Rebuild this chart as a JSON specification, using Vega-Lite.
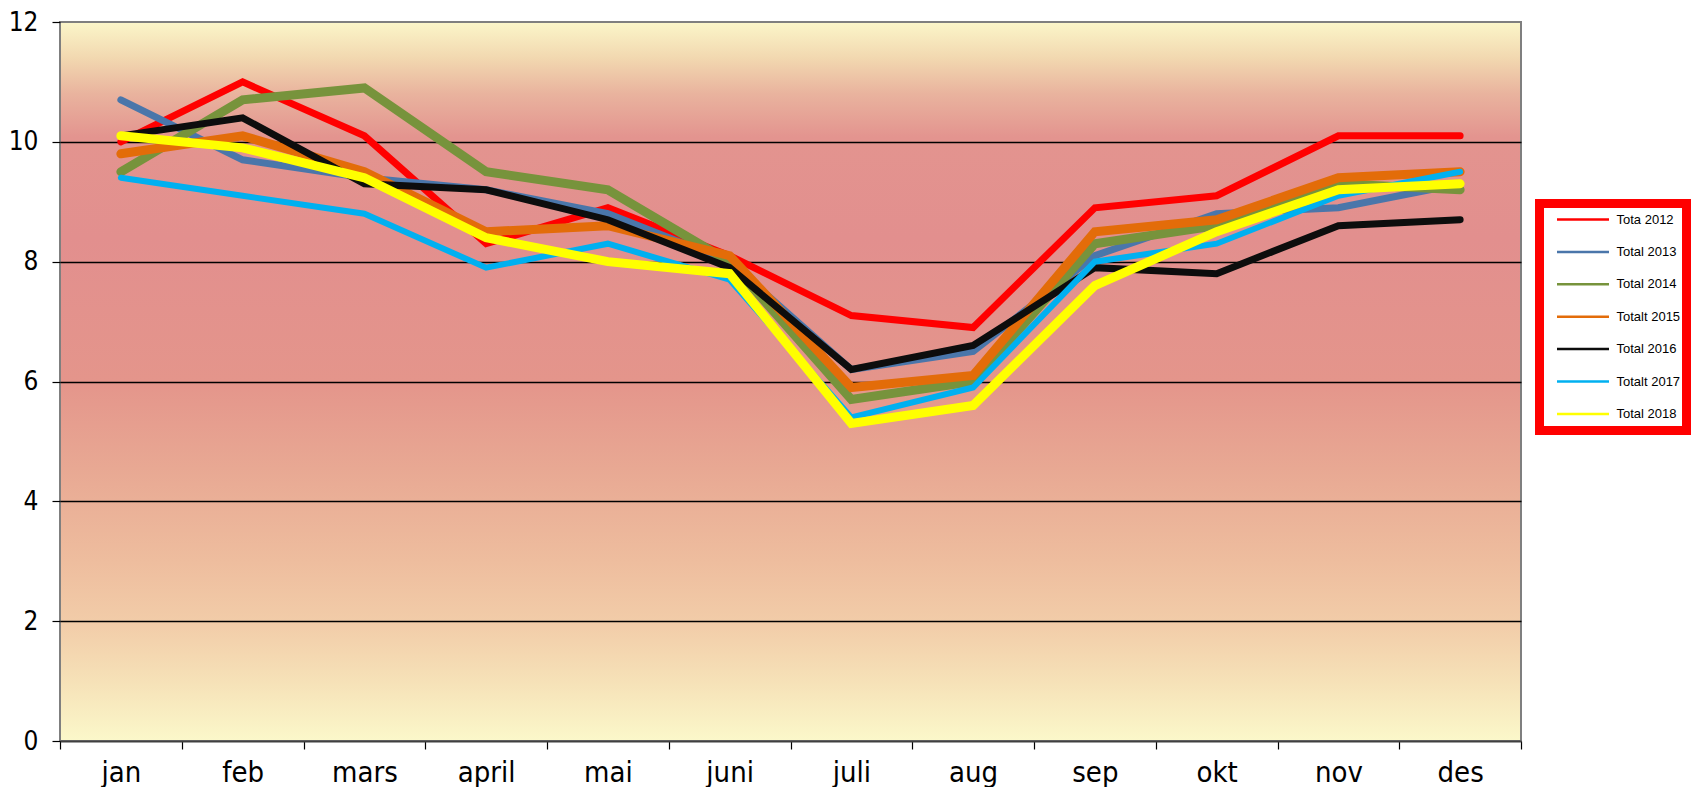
{
  "$schema": "https://vega.github.io/schema/vega-lite/v6.json",
  "width": 1461,
  "height": 719,
  "autosize": {"type": "none"},
  "padding": {"left": 60, "top": 22, "right": 173, "bottom": 46},
  "background": "#ffffff",
  "config": {
    "view": {
      "stroke": "#7f7f7f",
      "strokeWidth": 2,
      "fill": {
        "gradient": "linear",
        "x1": 0, "y1": 0, "x2": 0, "y2": 1,
        "stops": [
          {"offset": 0, "color": "#fbf6c9"},
          {"offset": 0.05, "color": "#f2d8b0"},
          {"offset": 0.1, "color": "#e9b39e"},
          {"offset": 0.16, "color": "#e3948f"},
          {"offset": 0.3, "color": "#e28f8e"},
          {"offset": 0.5, "color": "#e4958b"},
          {"offset": 0.62, "color": "#e8a893"},
          {"offset": 0.75, "color": "#eebd9e"},
          {"offset": 0.84, "color": "#f2cda9"},
          {"offset": 0.92, "color": "#f6e2b8"},
          {"offset": 1, "color": "#fbf8ca"}
        ]
      }
    },
    "legend": {
      "strokeWidth": 9
    }
  },
  "data": {
    "values": [
      {"m": "jan", "s": "Tota 2012", "v": 10.0},
      {"m": "feb", "s": "Tota 2012", "v": 11.0},
      {"m": "mars", "s": "Tota 2012", "v": 10.1},
      {"m": "april", "s": "Tota 2012", "v": 8.3},
      {"m": "mai", "s": "Tota 2012", "v": 8.9},
      {"m": "juni", "s": "Tota 2012", "v": 8.1},
      {"m": "juli", "s": "Tota 2012", "v": 7.1},
      {"m": "aug", "s": "Tota 2012", "v": 6.9},
      {"m": "sep", "s": "Tota 2012", "v": 8.9},
      {"m": "okt", "s": "Tota 2012", "v": 9.1},
      {"m": "nov", "s": "Tota 2012", "v": 10.1},
      {"m": "des", "s": "Tota 2012", "v": 10.1},
      {"m": "jan", "s": "Total 2013", "v": 10.7},
      {"m": "feb", "s": "Total 2013", "v": 9.7},
      {"m": "mars", "s": "Total 2013", "v": 9.4},
      {"m": "april", "s": "Total 2013", "v": 9.2},
      {"m": "mai", "s": "Total 2013", "v": 8.8},
      {"m": "juni", "s": "Total 2013", "v": 8.0},
      {"m": "juli", "s": "Total 2013", "v": 6.2},
      {"m": "aug", "s": "Total 2013", "v": 6.5},
      {"m": "sep", "s": "Total 2013", "v": 8.1},
      {"m": "okt", "s": "Total 2013", "v": 8.8},
      {"m": "nov", "s": "Total 2013", "v": 8.9},
      {"m": "des", "s": "Total 2013", "v": 9.3},
      {"m": "jan", "s": "Total 2014", "v": 9.5},
      {"m": "feb", "s": "Total 2014", "v": 10.7},
      {"m": "mars", "s": "Total 2014", "v": 10.9},
      {"m": "april", "s": "Total 2014", "v": 9.5},
      {"m": "mai", "s": "Total 2014", "v": 9.2},
      {"m": "juni", "s": "Total 2014", "v": 8.0},
      {"m": "juli", "s": "Total 2014", "v": 5.7},
      {"m": "aug", "s": "Total 2014", "v": 6.0},
      {"m": "sep", "s": "Total 2014", "v": 8.3},
      {"m": "okt", "s": "Total 2014", "v": 8.6},
      {"m": "nov", "s": "Total 2014", "v": 9.3},
      {"m": "des", "s": "Total 2014", "v": 9.2},
      {"m": "jan", "s": "Totalt 2015", "v": 9.8},
      {"m": "feb", "s": "Totalt 2015", "v": 10.1},
      {"m": "mars", "s": "Totalt 2015", "v": 9.5},
      {"m": "april", "s": "Totalt 2015", "v": 8.5},
      {"m": "mai", "s": "Totalt 2015", "v": 8.6},
      {"m": "juni", "s": "Totalt 2015", "v": 8.1},
      {"m": "juli", "s": "Totalt 2015", "v": 5.9},
      {"m": "aug", "s": "Totalt 2015", "v": 6.1},
      {"m": "sep", "s": "Totalt 2015", "v": 8.5},
      {"m": "okt", "s": "Totalt 2015", "v": 8.7},
      {"m": "nov", "s": "Totalt 2015", "v": 9.4},
      {"m": "des", "s": "Totalt 2015", "v": 9.5},
      {"m": "jan", "s": "Total 2016", "v": 10.1},
      {"m": "feb", "s": "Total 2016", "v": 10.4},
      {"m": "mars", "s": "Total 2016", "v": 9.3},
      {"m": "april", "s": "Total 2016", "v": 9.2},
      {"m": "mai", "s": "Total 2016", "v": 8.7},
      {"m": "juni", "s": "Total 2016", "v": 7.9},
      {"m": "juli", "s": "Total 2016", "v": 6.2},
      {"m": "aug", "s": "Total 2016", "v": 6.6},
      {"m": "sep", "s": "Total 2016", "v": 7.9},
      {"m": "okt", "s": "Total 2016", "v": 7.8},
      {"m": "nov", "s": "Total 2016", "v": 8.6},
      {"m": "des", "s": "Total 2016", "v": 8.7},
      {"m": "jan", "s": "Totalt 2017", "v": 9.4},
      {"m": "feb", "s": "Totalt 2017", "v": 9.1},
      {"m": "mars", "s": "Totalt 2017", "v": 8.8},
      {"m": "april", "s": "Totalt 2017", "v": 7.9},
      {"m": "mai", "s": "Totalt 2017", "v": 8.3},
      {"m": "juni", "s": "Totalt 2017", "v": 7.7},
      {"m": "juli", "s": "Totalt 2017", "v": 5.4},
      {"m": "aug", "s": "Totalt 2017", "v": 5.9},
      {"m": "sep", "s": "Totalt 2017", "v": 8.0},
      {"m": "okt", "s": "Totalt 2017", "v": 8.3},
      {"m": "nov", "s": "Totalt 2017", "v": 9.1},
      {"m": "des", "s": "Totalt 2017", "v": 9.5},
      {"m": "jan", "s": "Total 2018", "v": 10.1},
      {"m": "feb", "s": "Total 2018", "v": 9.9},
      {"m": "mars", "s": "Total 2018", "v": 9.4},
      {"m": "april", "s": "Total 2018", "v": 8.4},
      {"m": "mai", "s": "Total 2018", "v": 8.0},
      {"m": "juni", "s": "Total 2018", "v": 7.8},
      {"m": "juli", "s": "Total 2018", "v": 5.3},
      {"m": "aug", "s": "Total 2018", "v": 5.6},
      {"m": "sep", "s": "Total 2018", "v": 7.6},
      {"m": "okt", "s": "Total 2018", "v": 8.5},
      {"m": "nov", "s": "Total 2018", "v": 9.2},
      {"m": "des", "s": "Total 2018", "v": 9.3}
    ]
  },
  "encoding": {
    "x": {
      "field": "m",
      "type": "nominal",
      "bandPosition": 0.5,
      "scale": {
        "type": "band",
        "paddingInner": 0,
        "paddingOuter": 0,
        "domain": ["jan", "feb", "mars", "april", "mai", "juni", "juli", "aug", "sep", "okt", "nov", "des"]
      },
      "axis": {
        "title": null,
        "labelAngle": 0,
        "tickBand": "extent",
        "tickSize": 8,
        "tickColor": "#000000",
        "tickWidth": 1.2,
        "domainColor": "#404040",
        "domainWidth": 2,
        "grid": false,
        "labelFont": "Liberation Sans Narrow, DejaVu Sans Condensed, sans-serif",
        "labelFontSize": 29,
        "labelColor": "#000000",
        "labelBaseline": "alphabetic",
        "labelPadding": 32
      }
    },
    "y": {
      "field": "v",
      "type": "quantitative",
      "scale": {"domain": [0, 12], "nice": false, "zero": true},
      "axis": {
        "title": null,
        "values": [0, 2, 4, 6, 8, 10, 12],
        "grid": true,
        "gridColor": "#000000",
        "gridWidth": 1.3,
        "gridOpacity": {"condition": {"test": "datum.value === 0 || datum.value === 12", "value": 0}, "value": 1},
        "domain": false,
        "tickSize": 8,
        "tickColor": "#000000",
        "tickWidth": 1.2,
        "labelFont": "Liberation Sans Narrow, DejaVu Sans Condensed, sans-serif",
        "labelFontSize": 26,
        "labelColor": "#000000",
        "labelPadding": 14,
        "labelBaseline": "middle"
      }
    },
    "color": {
      "field": "s",
      "type": "nominal",
      "scale": {
        "domain": ["Tota 2012", "Total 2013", "Total 2014", "Totalt 2015", "Total 2016", "Totalt 2017", "Total 2018"],
        "range": ["#ff0000", "#4a76aa", "#77933c", "#e36c09", "#0d0d0d", "#00b0f0", "#ffff00"]
      },
      "legend": {
        "title": null,
        "orient": "none",
        "legendX": 1479.5,
        "legendY": 181.5,
        "symbolType": "stroke",
        "symbolSize": 2704,
        "symbolStrokeWidth": 2.5,
        "labelFont": "Liberation Sans, Arial, sans-serif",
        "labelFontSize": 13,
        "labelColor": "#000000",
        "clipHeight": 20,
        "rowPadding": 12.4,
        "padding": 6,
        "symbolOffset": 10,
        "labelOffset": 6,
        "strokeColor": "#ff0000",
        "fillColor": "#ffffff"
      }
    }
  },
  "layer": [
    {"transform": [{"filter": "datum.s === 'Tota 2012'"}], "mark": {"type": "line", "strokeWidth": 7, "strokeCap": "round", "strokeJoin": "miter"}},
    {"transform": [{"filter": "datum.s === 'Total 2013'"}], "mark": {"type": "line", "strokeWidth": 7, "strokeCap": "round", "strokeJoin": "miter"}},
    {"transform": [{"filter": "datum.s === 'Total 2014'"}], "mark": {"type": "line", "strokeWidth": 9, "strokeCap": "round", "strokeJoin": "miter"}},
    {"transform": [{"filter": "datum.s === 'Totalt 2015'"}], "mark": {"type": "line", "strokeWidth": 9, "strokeCap": "round", "strokeJoin": "miter"}},
    {"transform": [{"filter": "datum.s === 'Total 2016'"}], "mark": {"type": "line", "strokeWidth": 7, "strokeCap": "round", "strokeJoin": "miter"}},
    {"transform": [{"filter": "datum.s === 'Totalt 2017'"}], "mark": {"type": "line", "strokeWidth": 6, "strokeCap": "round", "strokeJoin": "miter"}},
    {"transform": [{"filter": "datum.s === 'Total 2018'"}], "mark": {"type": "line", "strokeWidth": 9, "strokeCap": "round", "strokeJoin": "miter"}}
  ]
}
